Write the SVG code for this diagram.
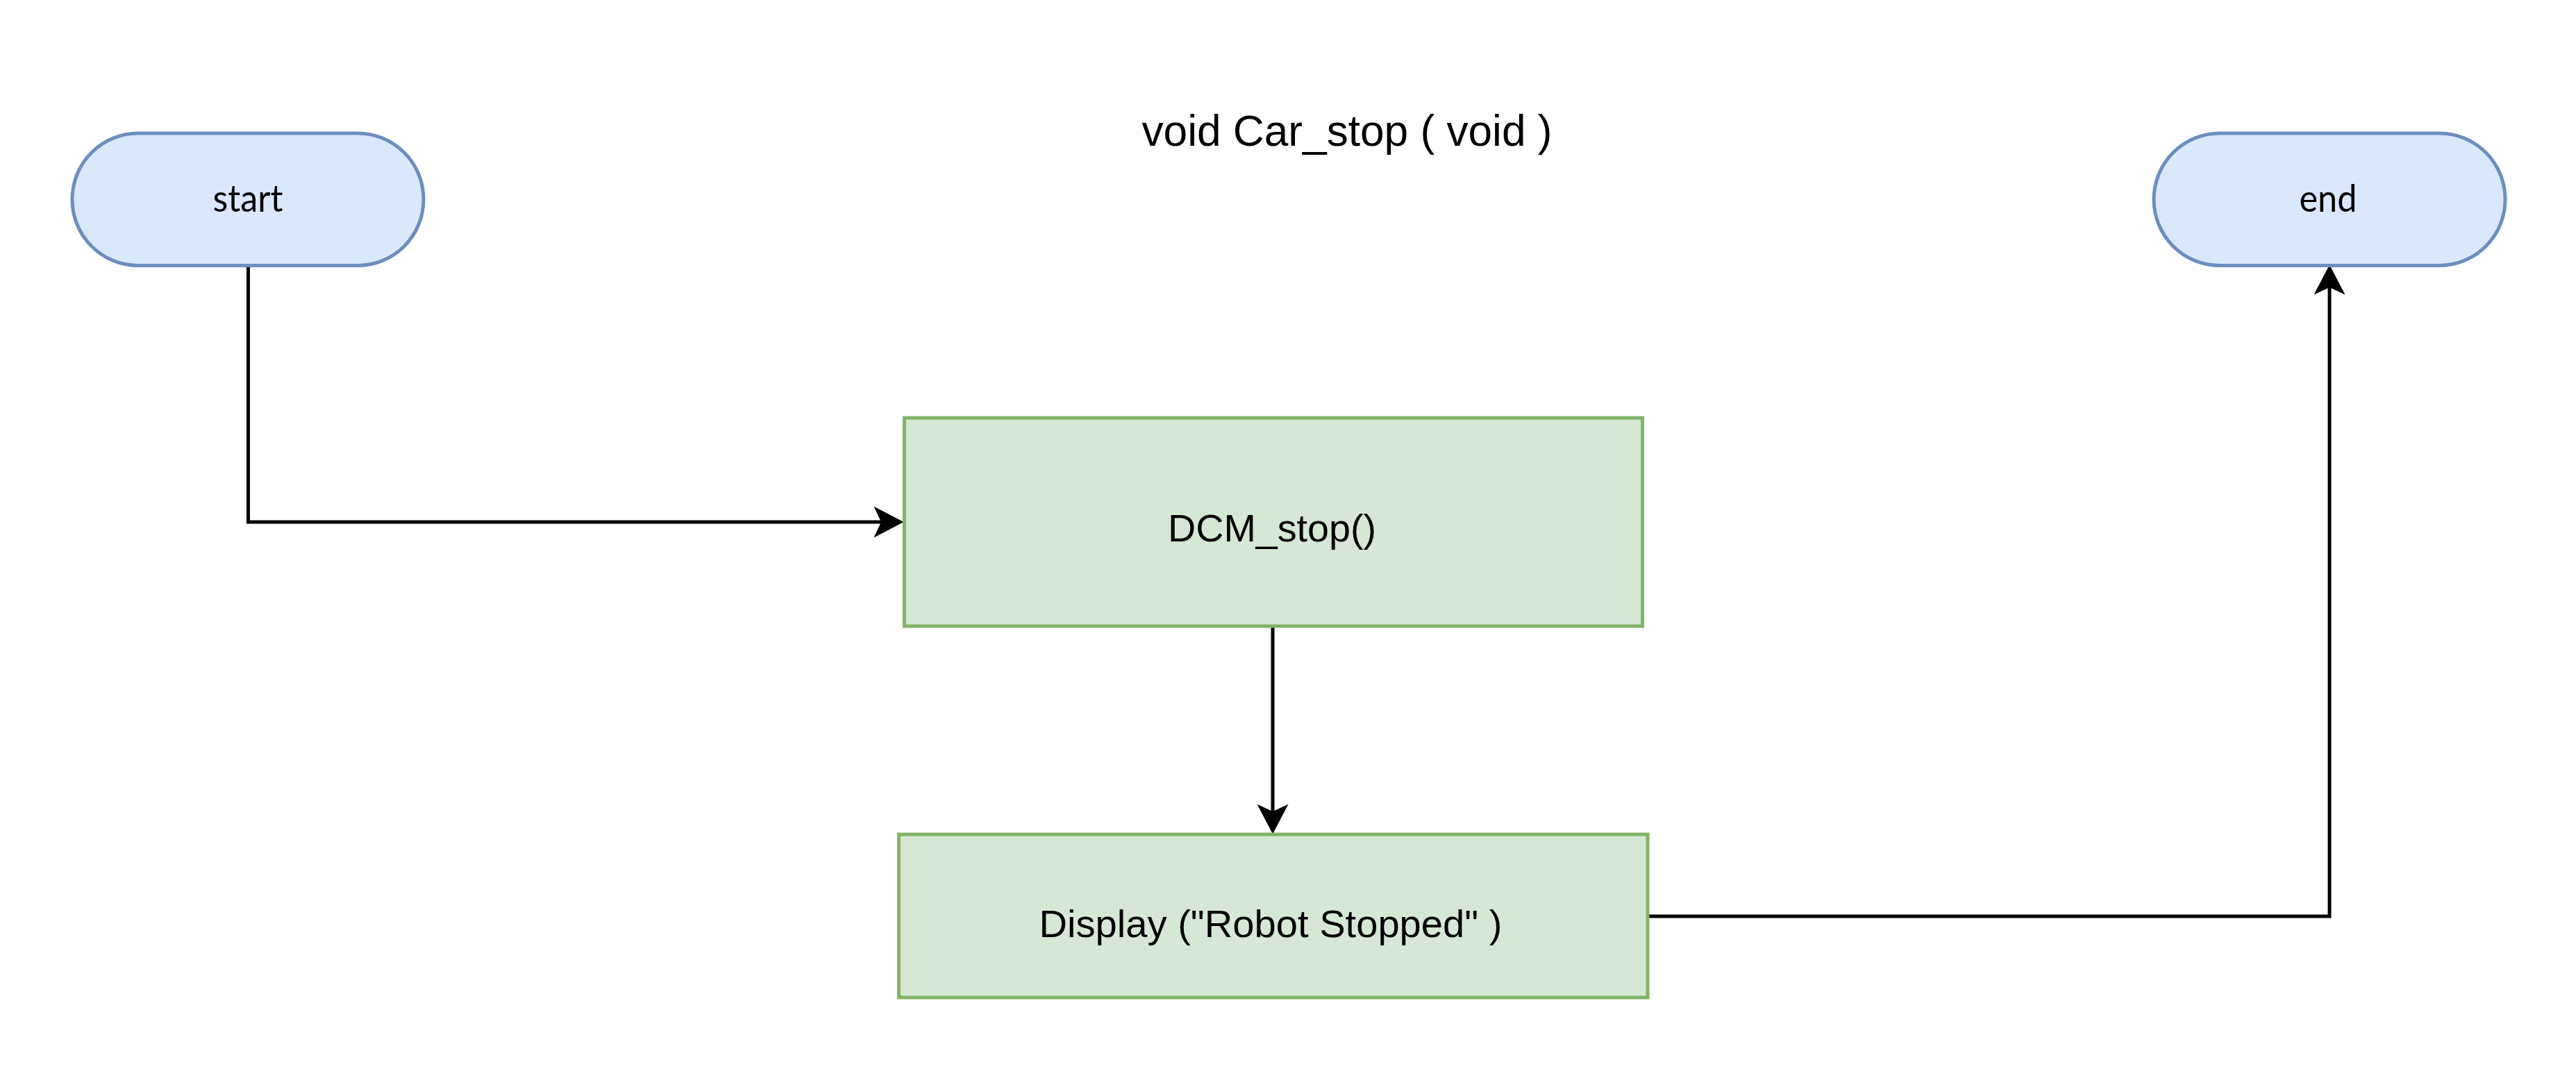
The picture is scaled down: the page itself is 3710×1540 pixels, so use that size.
<svg xmlns="http://www.w3.org/2000/svg" width="3710" height="1540" viewBox="0 0 3710 1540">
<style>
.term{fill:#dae8fc;stroke:#6c8ebf;stroke-width:5}
.proc{fill:#d5e8d4;stroke:#82b366;stroke-width:5}
.tt{font-family:Lato,"Open Sans","Noto Sans",sans-serif;font-size:54px;fill:#000;text-anchor:middle}
.pt{font-family:"Liberation Sans",Arial,sans-serif;font-size:56px;fill:#000;text-anchor:middle}
.title{font-family:"Liberation Sans",Arial,sans-serif;font-size:63px;fill:#000;text-anchor:middle}
.edge{fill:none;stroke:#000;stroke-width:5}
</style>
<defs>
<marker id="arr" markerUnits="userSpaceOnUse" markerWidth="44" markerHeight="46" viewBox="0 0 44 46" refX="11" refY="23" orient="auto" overflow="visible">
<path d="M0.5,0.5 L43.5,23 L0.5,45.5 L11,23 Z" fill="#000"/>
</marker>
</defs>
<rect width="3710" height="1540" fill="#fff"/>
<g id="title">
<text class="title" x="1940" y="210" textLength="591" lengthAdjust="spacingAndGlyphs">void Car_stop ( void )</text>
</g>
<g id="connectors">
<path class="edge" d="M357.5,383 V752 H1269" marker-end="url(#arr)"/>
<path class="edge" d="M1833,903 V1169" marker-end="url(#arr)"/>
<path class="edge" d="M2373,1320 H3355 V414" marker-end="url(#arr)"/>
</g>
<g id="start">
<rect class="term" x="104" y="192" width="506" height="190.5" rx="95" ry="95"/>
<text class="tt" x="357" y="305" textLength="101" lengthAdjust="spacingAndGlyphs">start</text>
</g>
<g id="end">
<rect class="term" x="3102" y="192" width="506" height="190.5" rx="95" ry="95"/>
<text class="tt" x="3353" y="305" textLength="83" lengthAdjust="spacingAndGlyphs">end</text>
</g>
<g id="dcm_stop">
<rect class="proc" x="1302.5" y="602" width="1063" height="300"/>
<text class="pt" x="1832" y="780" textLength="300" lengthAdjust="spacingAndGlyphs">DCM_stop()</text>
</g>
<g id="display">
<rect class="proc" x="1294.5" y="1202" width="1078.5" height="235"/>
<text class="pt" x="1830" y="1350" textLength="667" lengthAdjust="spacingAndGlyphs">Display ("Robot Stopped" )</text>
</g>
</svg>
